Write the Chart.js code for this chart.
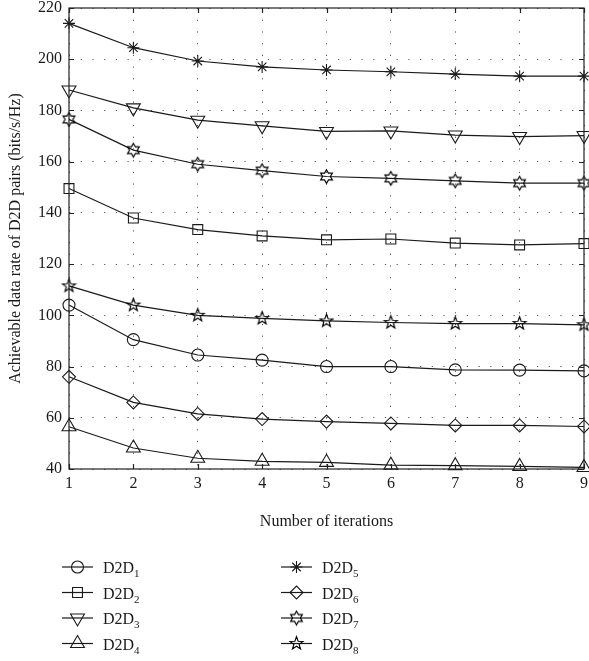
<!DOCTYPE html>
<html>
<head>
<meta charset="utf-8">
<script src="https://cdn.jsdelivr.net/npm/chart.js@4/dist/chart.umd.min.js"></script>
<style>
  html, body { margin: 0; padding: 0; background: #fff; overflow: hidden; }
  #wrap { width: 593px; height: 661px; }
</style>
</head>
<body>
<div id="wrap"><canvas id="chart-rate"></canvas></div>
<script>
// data
var iterations = [1, 2, 3, 4, 5, 6, 7, 8, 9];
var d2d1 = [104, 90.5, 84.5, 82.5, 80, 80, 78.7, 78.6, 78.3];
var d2d2 = [149.5, 138, 133.5, 131, 129.5, 129.8, 128.2, 127.5, 128];
var d2d3 = [188, 181, 176.2, 174, 171.8, 172, 170.4, 169.8, 170.2];
var d2d4 = [56.5, 48.2, 44.2, 43, 42.6, 41.5, 41.3, 41, 40.6];
var d2d5 = [214, 204.5, 199.3, 197, 195.8, 195.1, 194.2, 193.4, 193.4];
var d2d6 = [76, 66, 61.5, 59.5, 58.5, 57.8, 57, 57, 56.6];
var d2d7 = [176.5, 164.5, 159, 156.5, 154.2, 153.5, 152.5, 151.6, 151.6];
var d2d8 = [111.5, 104, 100, 98.8, 97.8, 97.2, 96.8, 96.8, 96.3];
var seriesNames = ['1', '2', '3', '4', '5', '6', '7', '8'];
var yTicks = [40, 60, 80, 100, 120, 140, 160, 180, 200, 220];

var ink = '#1a1a1a';
var serif = '"Liberation Serif", "DejaVu Serif", serif';

// star shaped markers (hexagram / pentagram) as small canvases
function starMarker(points, outer, inner, w, h) {
  var c = document.createElement('canvas');
  c.width = w; c.height = h;
  var ctx = c.getContext('2d');
  ctx.strokeStyle = '#000';
  ctx.lineWidth = 1.15;
  ctx.beginPath();
  for (var i = 0; i < points * 2; i++) {
    var r = i % 2 == 0 ? outer : inner;
    var a = -Math.PI / 2 + i * Math.PI / points;
    var x = w / 2 + r * Math.cos(a), y = h / 2 + r * Math.sin(a);
    if (i == 0) ctx.moveTo(x, y); else ctx.lineTo(x, y);
  }
  ctx.closePath();
  ctx.stroke();
  return c;
}
var hexagram = starMarker(6, 6.8, 3.9, 17, 17);
var pentagram = starMarker(5, 6.8, 2.8, 17, 17);

var markers = [
  {style: 'circle', r: 6, rot: 0},
  {style: 'rect', r: 7, rot: 0},
  {style: 'triangle', r: 8, rot: 180},
  {style: 'triangle', r: 8, rot: 0},
  {style: 'star', r: 6, rot: 0},
  {style: 'rectRot', r: 6.5, rot: 0},
  {style: hexagram, r: 7, rot: 0},
  {style: pentagram, r: 7, rot: 0}
];
var allSeries = [d2d1, d2d2, d2d3, d2d4, d2d5, d2d6, d2d7, d2d8];

var datasets = allSeries.map(function (vals, i) {
  return {
    label: 'D2D' + seriesNames[i],
    data: vals,
    borderColor: ink,
    backgroundColor: 'rgba(0,0,0,0)',
    borderWidth: 1.2,
    pointStyle: markers[i].style,
    pointRadius: markers[i].r,
    pointRotation: markers[i].rot,
    pointBorderColor: ink,
    pointBorderWidth: 1.1,
    pointBackgroundColor: 'rgba(0,0,0,0)',
    tension: 0,
    clip: 10
  };
});

// box + inward ticks like the matlab axes
var boxPlugin = {
  id: 'box',
  afterDatasetsDraw: function (chart) {
    var ctx = chart.ctx, a = chart.chartArea;
    var xs = chart.scales.x, ys = chart.scales.y;
    ctx.save();
    ctx.strokeStyle = '#222';
    ctx.lineWidth = 1.2;
    ctx.strokeRect(a.left, a.top, a.right - a.left, a.bottom - a.top);
    ctx.beginPath();
    yTicks.forEach(function (v) {
      var y = Math.round(ys.getPixelForValue(v)) + 0.5;
      ctx.moveTo(a.left, y); ctx.lineTo(a.left + 5, y);
      ctx.moveTo(a.right, y); ctx.lineTo(a.right - 5, y);
    });
    iterations.forEach(function (v, i) {
      var x = Math.round(xs.getPixelForValue(i)) + 0.5;
      ctx.moveTo(x, a.bottom); ctx.lineTo(x, a.bottom - 5);
      ctx.moveTo(x, a.top); ctx.lineTo(x, a.top + 5);
    });
    ctx.stroke();
    ctx.restore();
  }
};

// two column legend with subscripts
var legendPlugin = {
  id: 'subLegend',
  afterDraw: function (chart) {
    var ctx = chart.ctx;
    ctx.save();
    chart.data.datasets.forEach(function (ds, i) {
      var col = i < 4 ? 0 : 1;
      var row = i % 4;
      var lx = col == 0 ? 62 : 281;
      var y = 567 + row * 25.5;
      ctx.strokeStyle = ink;
      ctx.lineWidth = 1.2;
      ctx.beginPath();
      ctx.moveTo(lx, y); ctx.lineTo(lx + 31, y);
      ctx.stroke();
      var opts = {pointStyle: ds.pointStyle, radius: ds.pointRadius, rotation: ds.pointRotation, borderWidth: 1.1};
      ctx.fillStyle = 'rgba(0,0,0,0)';
      ctx.strokeStyle = ink;
      ctx.lineWidth = 1.1;
      Chart.helpers.drawPoint(ctx, opts, lx + 15.5, y);
      ctx.fillStyle = ink;
      ctx.textBaseline = 'alphabetic';
      ctx.font = '16px ' + serif;
      ctx.fillText('D2D', lx + 41, y + 6);
      var w = ctx.measureText('D2D').width;
      ctx.font = '11px ' + serif;
      ctx.fillText(seriesNames[i], lx + 41 + w, y + 10);
    });
    ctx.restore();
  }
};

var config = {
  type: 'line',
  data: {
    labels: iterations,
    datasets: datasets
  },
  options: {
    responsive: true,
    maintainAspectRatio: false,
    animation: false,
    layout: {
      autoPadding: false,
      padding: {left: 0, right: 5, top: 8, bottom: 130}
    },
    plugins: {
      legend: {display: false},
      tooltip: {enabled: false}
    },
    scales: {
      x: {
        type: 'category',
        offset: false,
        afterFit: function (scale) {
          scale.height = 62;
        },
        grid: {
          color: '#555',
          lineWidth: 1,
          drawTicks: false
        },
        border: {display: false, dash: [1.2, 10.5]},
        ticks: {
          color: ink,
          padding: 5,
          maxRotation: 0,
          font: {family: serif, size: 16}
        },
        title: {
          display: true,
          text: 'Number of iterations',
          color: ink,
          padding: {top: 4, bottom: 0},
          font: {family: serif, size: 16}
        }
      },
      y: {
        min: 40,
        max: 220,
        afterFit: function (scale) {
          scale.width = 69;
          scale.paddingTop = 0;
          scale.paddingBottom = 0;
        },
        afterBuildTicks: function (scale) {
          scale.ticks = yTicks.map(function (v) { return {value: v}; });
        },
        grid: {
          color: '#555',
          lineWidth: 1,
          drawTicks: false
        },
        border: {display: false, dash: [1.2, 10.5]},
        ticks: {
          color: ink,
          padding: 7,
          font: {family: serif, size: 16}
        },
        title: {
          display: true,
          text: 'Achievable data rate of D2D pairs (bits/s/Hz)',
          color: ink,
          padding: {top: 6, bottom: 0},
          font: {family: serif, size: 16}
        }
      }
    }
  },
  plugins: [boxPlugin, legendPlugin]
};

var ctx = document.getElementById('chart-rate').getContext('2d');
window.myLine = new Chart(ctx, config);
</script>
</body>
</html>
